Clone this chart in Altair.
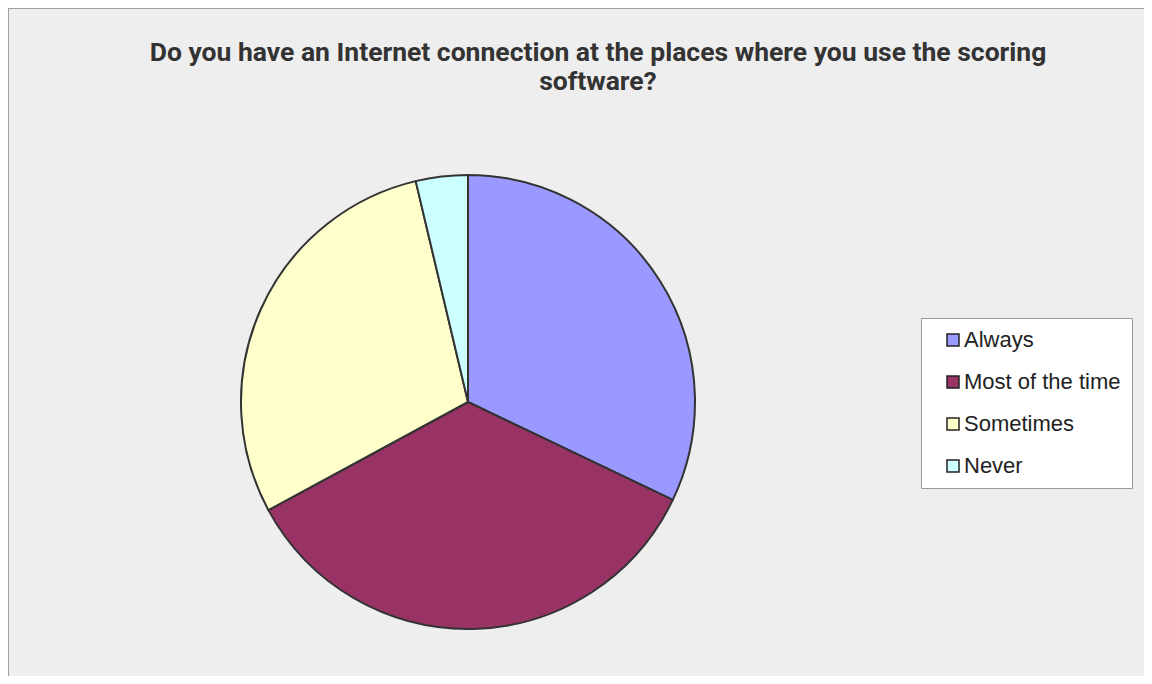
import altair as alt
import pandas as pd

categories = ["Always", "Most of the time", "Sometimes", "Never"]
values = [32.1, 35.0, 29.2, 3.7]
colors = ["#9999FF", "#993366", "#FFFFCC", "#CCFFFF"]
title_lines = [
    "Do you have an Internet connection at the places where you use the scoring",
    "software?",
]

df = pd.DataFrame({"answer": categories, "value": values, "order": list(range(len(categories)))})

W, H = 1136, 668
CX, CY, R = 460, 394, 227

pie = alt.Chart(df).mark_arc(
    outerRadius=R, stroke="#333333", strokeWidth=2, strokeJoin="round"
).encode(
    theta=alt.Theta("value:Q", stack=True),
    order=alt.Order("order:Q"),
    color=alt.Color(
        "answer:N",
        scale=alt.Scale(domain=categories, range=colors),
        sort=categories,
        legend=alt.Legend(
            title=None,
            orient="none",
            legendX=913,
            legendY=310,
            symbolType="square",
            symbolSize=144,
            symbolStrokeColor="#222222",
            symbolStrokeWidth=1.5,
            symbolOffset=10,
            labelFont="Liberation Sans",
            labelFontSize=22,
            labelColor="#222222",
            labelOffset=0,
            labelLimit=400,
            rowPadding=20,
            padding=11,
            fillColor="white",
            strokeColor="#999999",
        ),
    ),
    x=alt.value(CX),
    y=alt.value(CY),
)

title = alt.Chart(pd.DataFrame({"t": [0]})).mark_text(
    text=title_lines,
    font="Roboto",
    fontWeight="bold",
    fontSize=26.5,
    color="#333333",
    align="center",
    baseline="alphabetic",
    lineHeight=29,
).encode(x=alt.value(590), y=alt.value(53))

frame_left = alt.Chart(pd.DataFrame({"t": [0]})).mark_rule(
    color="#A0A0A0", strokeWidth=2
).encode(x=alt.value(0), y=alt.value(0), y2=alt.value(H))

frame_top = alt.Chart(pd.DataFrame({"t": [0]})).mark_rule(
    color="#A0A0A0", strokeWidth=2
).encode(y=alt.value(0), x=alt.value(0), x2=alt.value(W))

chart = alt.layer(pie, title, frame_left, frame_top).properties(
    width=W,
    height=H,
    autosize=alt.AutoSizeParams(type="none"),
    padding=0,
    background="white",
).configure_view(
    fill="#EEEEEE", stroke=None
)

chart.save("out.html", embed_options={"renderer": "svg", "actions": False})
